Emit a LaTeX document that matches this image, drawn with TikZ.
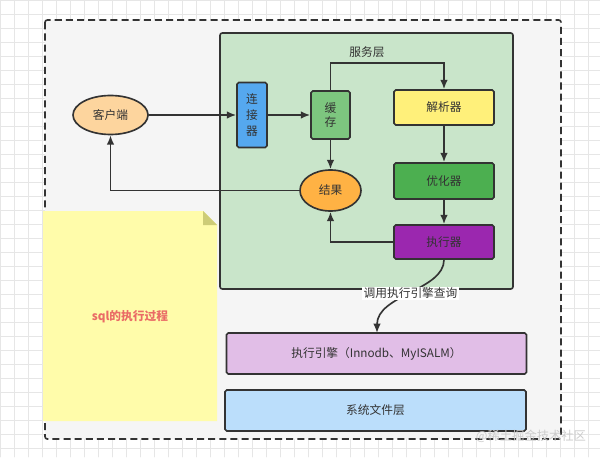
\documentclass[tikz,border=0pt]{standalone}
\usepackage{fontspec}
\setmainfont{Noto Sans CJK SC}
\usetikzlibrary{arrows.meta, shapes.geometric}

\begin{document}
\begin{tikzpicture}
	[x=0.03cm,y=-0.03cm,line cap=round,
	%Styles
	box/.style={draw=linecol,line width=1.4pt,rounded corners=1.5pt,inner sep=0pt,
		font=\fontsize{10}{12}\selectfont,text=textcol,align=center},
	oval/.style={box,ellipse},
	flow/.style={draw=linecol,line width=1.4pt,-{Latex[length=8pt,width=6.5pt]}},
	grid line/.style={draw=gridcol,line width=0.5pt},
	caption text/.style={font=\fontsize{10}{12}\selectfont,text=textcol,inner sep=1pt}
	]
	
	%Colors
	\definecolor{linecol}{HTML}{333333}
	\definecolor{textcol}{HTML}{333333}
	\definecolor{gridcol}{HTML}{E6E6E6}
	\definecolor{outerfill}{HTML}{F5F5F5}
	\definecolor{servicefill}{HTML}{C9E5CA}
	\definecolor{clientfill}{HTML}{FDD59E}
	\definecolor{connfill}{HTML}{55A8EF}
	\definecolor{cachefill}{HTML}{7DC67F}
	\definecolor{parserfill}{HTML}{FFF07A}
	\definecolor{optfill}{HTML}{4CAF50}
	\definecolor{execfill}{HTML}{9B27AF}
	\definecolor{resultfill}{HTML}{FFB244}
	\definecolor{enginefill}{HTML}{E1BEE7}
	\definecolor{fsfill}{HTML}{BBDEFB}
	\definecolor{notefill}{HTML}{FFFCAA}
	\definecolor{notefold}{HTML}{CDCC77}
	\definecolor{notetext}{HTML}{EA6B66}
	
	%The graphic
	\useasboundingbox (0,0) rectangle (600,457);
	\fill[white] (0,0) rectangle (600,457);
	\draw[grid line,step=0.42cm] (0,0) grid (600,457);
	
	\draw[draw=linecol,fill=outerfill,line width=1.4pt,line cap=butt,
		dash pattern=on 6pt off 3.5pt,rounded corners=2pt] (45,20) rectangle (561,439);
	\draw[draw=linecol,fill=servicefill,line width=1.4pt,rounded corners=2pt] (220,33) rectangle (513,289);
	
	% note
	\fill[notefill] (43,211) -- (203,211) -- (217,225) -- (217,421) -- (43,421) -- cycle;
	\fill[notefold] (203,211) -- (203,225) -- (217,225) -- cycle;
	\node[font=\bfseries\fontsize{10}{12}\selectfont,text=notetext] (note) at (130,317) {sql的执行过程};
	
	\node[caption text] (service) at (367,52) {服务层};
	
	\node[oval,fill=clientfill,minimum width=2.25cm,minimum height=1.17cm] (client) at (110.5,115) {客户端};
	\node[box,fill=connfill,minimum width=0.9cm,minimum height=1.95cm,font=\fontsize{10}{14}\selectfont] (conn) at (252,115) {连\\接\\器};
	\node[box,fill=cachefill,minimum width=1.17cm,minimum height=1.44cm,font=\fontsize{10}{12.5}\selectfont] (cache) at (330.5,115) {缓\\存};
	\node[box,fill=parserfill,minimum width=3cm,minimum height=1.05cm] (parser) at (444,107.5) {解析器};
	\node[box,fill=optfill,minimum width=3cm,minimum height=1.08cm] (opt) at (444,181) {优化器};
	\node[box,fill=execfill,minimum width=3cm,minimum height=1.02cm] (exec) at (444,242) {执行器};
	\node[oval,fill=resultfill,minimum width=1.83cm,minimum height=1.23cm] (result) at (330.5,190.5) {结果};
	\node[box,fill=enginefill,minimum width=9cm,minimum height=1.23cm] (engine) at (376.5,353.5) {执行引擎（Innodb、MyISALM）};
	\node[box,fill=fsfill,minimum width=9.03cm,minimum height=1.23cm] (fs) at (375.5,410.5) {系统文件层};
	
	\draw[flow] (client) -- (conn);
	\draw[flow] (conn) -- (cache);
	\draw[flow] (cache.north) -- ++(0,-27) -| (parser.north);
	\draw[flow] (cache) -- (result);
	\draw[flow] (parser) -- (opt);
	\draw[flow] (opt) -- (exec);
	\draw[flow] (exec.west) -| (result.south);
	\draw[flow] (result.west) -| (client.south);
	\draw[flow] (exec.south) .. controls (444,290) and (377,295) .. (377,333)
		node[pos=0.5,caption text,fill=white] (call) {调用执行引擎查询};
	
	\node[font=\fontsize{10.5}{12}\selectfont,text=gray!40] (mark) at (531,436) {@稀土掘金技术社区};
\end{tikzpicture}
\end{document}
